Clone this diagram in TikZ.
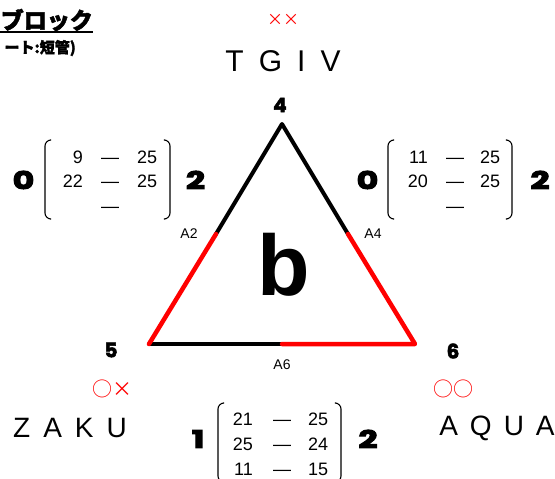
\documentclass[tikz,border=0pt]{standalone}
\usepackage{fontspec}
\setmainfont{Liberation Sans}
\newfontfamily\heavyfont[BoldFeatures={FakeBold=2.5}]{Poppins}
\newfontfamily\heavierfont[BoldFeatures={FakeBold=4}]{Poppins}
\newfontfamily\jpfont[BoldFeatures={FakeBold=2}]{Noto Sans CJK JP}
\newcommand{\widedigit}[1]{\scalebox{1.35}[1]{#1}}
\tikzset{
  triline/.style={line width=4pt, line cap=round, line join=round},
  blk/.style={triline, black},
  redseg/.style={triline, red, line width=4.5pt},
  bigdigit/.style={inner sep=0pt, font=\heavierfont\bfseries\fontsize{24.5}{24.5}\selectfont},
  vnum/.style={inner sep=0pt, font=\heavyfont\bfseries\fontsize{20}{20}\selectfont},
  mnum/.style={inner sep=0pt, font=\fontsize{18}{18}\selectfont},
  lbl/.style={inner sep=0pt, font=\fontsize{14}{14}\selectfont},
  nametext/.style={inner sep=0pt, font=\fontsize{28}{28}\selectfont},
  redmark/.style={inner sep=0pt, text=red, font=\jpfont\fontsize{20}{20}\selectfont},
  brk/.style={line width=1.1pt, rounded corners=6pt},
}
\begin{document}
\begin{tikzpicture}[x=1pt,y=-1pt]
\useasboundingbox (0,0) rectangle (555,479);

% title
\node[inner sep=0pt, anchor=base east, font=\jpfont\bfseries\fontsize{23}{23}\selectfont] (t1) at (93,29) {ブロック};
\draw[line width=1.8pt] (0,32) -- (93,32);
\node[inner sep=0pt, anchor=base east, font=\jpfont\bfseries\fontsize{15}{15}\selectfont] (t2) at (76,53) {ート:短管)};

% top
\node[redmark, font=\jpfont\fontsize{16}{16}\selectfont] (xx) at (283,20) {××};
\node[nametext, font=\fontsize{30}{30}\selectfont] (tgiv) at (283,61) {T\hspace{15pt}G\hspace{15pt}I\hspace{15pt}V};
\node[vnum] (v4) at (280,105) {4};

% triangle
\coordinate (A) at (282,124);
\coordinate (L) at (149,344);
\coordinate (R) at (415,344);
\coordinate (a2) at (216,234);
\coordinate (a4) at (348,234);
\coordinate (a6) at (282,344);
\draw[blk] (a2) -- (A) -- (a4);
\draw[blk] (L) -- (a6);
\draw[redseg] (a2) -- (L);
\draw[redseg] (a4) -- (R) -- (a6);
\node[lbl] (A2) at (189,234) {A2};
\node[lbl] (A4) at (373,234) {A4};
\node[lbl] (A6) at (282,365) {A6};
\node[inner sep=0pt, font=\bfseries\fontsize{86}{86}\selectfont] (b) at (284,265) {b};

% vertices
\node[vnum] (v5) at (111,350) {5};
\node[vnum] (v6) at (453,351) {6};
\node[redmark] (m5) at (112,389) {○×};
\node[redmark] (m6) at (453,389) {○○};
\node[nametext] (zaku) at (70,428) {Z\hspace{13pt}A\hspace{13pt}K\hspace{13pt}U};
\node[nametext] (aqua) at (497,428) {A\hspace{12pt}Q\hspace{12pt}U\hspace{12pt}A};

% left matrix
\node[bigdigit] (l0) at (23.5,180) {\widedigit{0}};
\node[bigdigit] (l2) at (195.5,180) {\widedigit{2}};
\draw[brk] (50,140) -- (45,140) -- (45,219) -- (50,219);
\draw[brk] (165,140) -- (170,140) -- (170,219) -- (165,219);
\node[mnum, anchor=base east] (l11) at (83,163) {9};
\node[mnum, anchor=base] (l12) at (110,163) {—};
\node[mnum, anchor=base west] (l13) at (137,163) {25};
\node[mnum, anchor=base east] (l21) at (83,187) {22};
\node[mnum, anchor=base] (l22) at (110,187) {—};
\node[mnum, anchor=base west] (l23) at (137,187) {25};
\node[mnum, anchor=base] (l32) at (110,212) {—};

% right matrix
\node[bigdigit] (r0) at (367.5,180) {\widedigit{0}};
\node[bigdigit] (r2) at (540,180) {\widedigit{2}};
\draw[brk] (393,140) -- (388,140) -- (388,219) -- (393,219);
\draw[brk] (507,140) -- (512,140) -- (512,219) -- (507,219);
\node[mnum, anchor=base east] (r11) at (428,163) {11};
\node[mnum, anchor=base] (r12) at (455,163) {—};
\node[mnum, anchor=base west] (r13) at (480,163) {25};
\node[mnum, anchor=base east] (r21) at (428,187) {20};
\node[mnum, anchor=base] (r22) at (455,187) {—};
\node[mnum, anchor=base west] (r23) at (480,187) {25};
\node[mnum, anchor=base] (r32) at (455,212) {—};

% bottom matrix
\node[bigdigit] (b1) at (198,439) {\widedigit{1}};
\node[bigdigit] (b2) at (368,439) {\widedigit{2}};
\draw[brk] (223,403) -- (218,403) -- (218,482) -- (223,482);
\draw[brk] (336,403) -- (341,403) -- (341,482) -- (336,482);
\node[mnum, anchor=base east] (b11) at (253,425) {21};
\node[mnum, anchor=base] (b12) at (282,425) {—};
\node[mnum, anchor=base west] (b13) at (308,425) {25};
\node[mnum, anchor=base east] (b21) at (253,450) {25};
\node[mnum, anchor=base] (b22) at (282,450) {—};
\node[mnum, anchor=base west] (b23) at (308,450) {24};
\node[mnum, anchor=base east] (b31) at (253,475) {11};
\node[mnum, anchor=base] (b32) at (282,475) {—};
\node[mnum, anchor=base west] (b33) at (308,475) {15};
\end{tikzpicture}
\end{document}
